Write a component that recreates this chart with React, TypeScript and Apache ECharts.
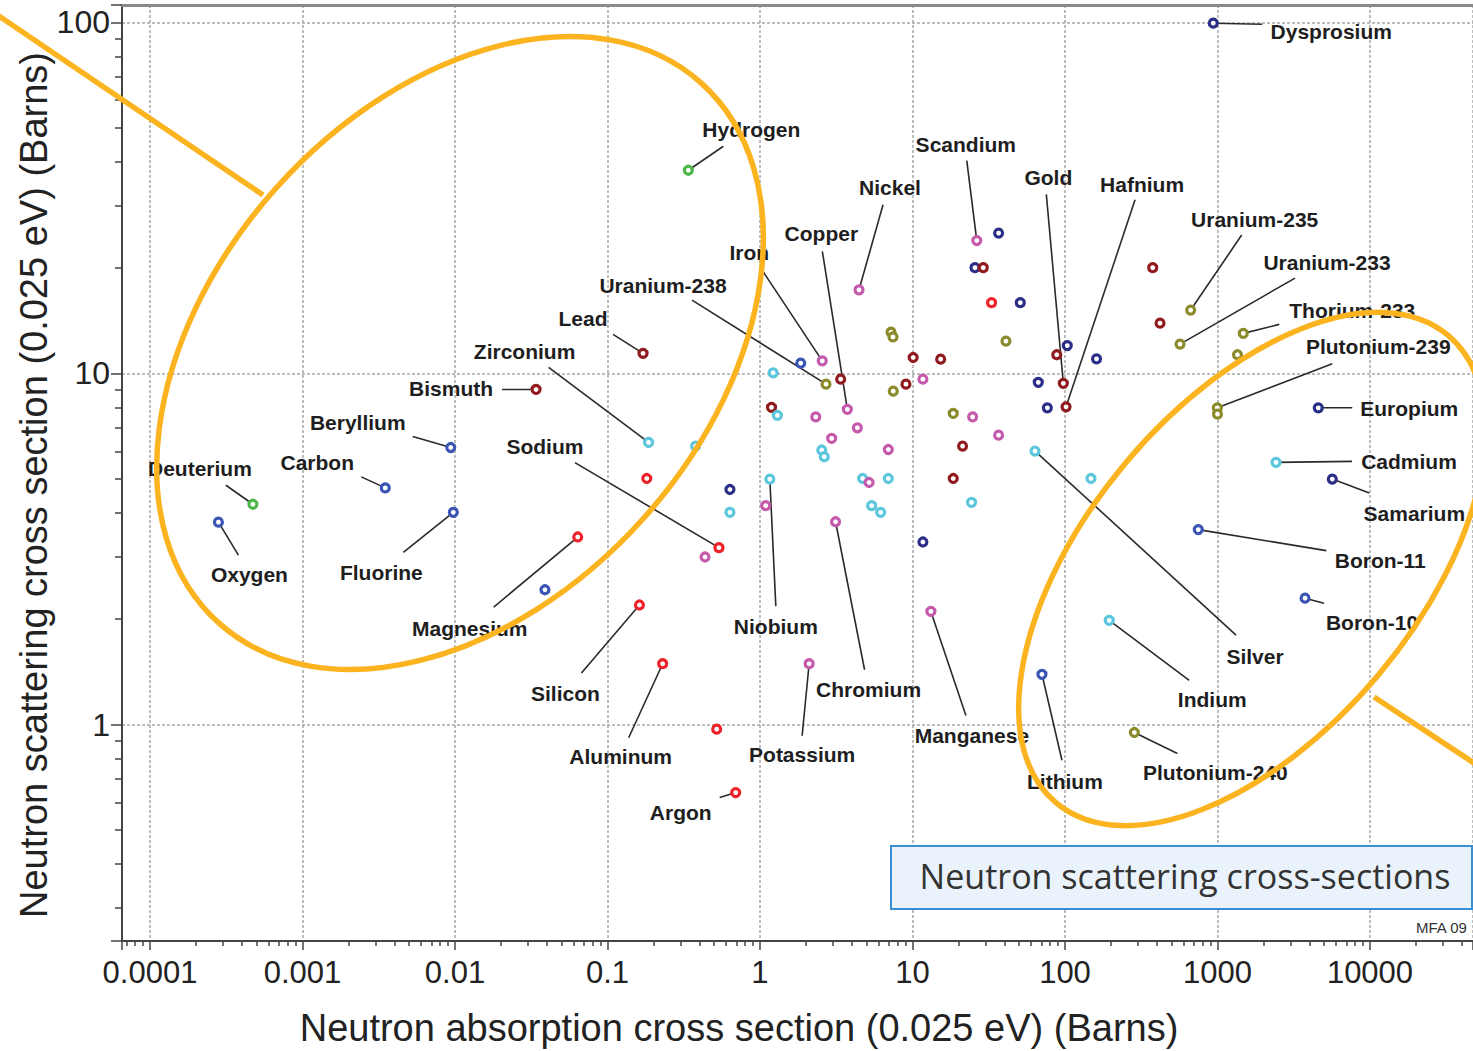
import React, { useEffect, useRef } from 'react';
import * as echarts from 'echarts';

// [absorption (barns), scattering (barns), label]
type Pt = [number, number, string];

const navyPoints: Pt[] = [
  [938, 99.4, 'Dysprosium'],
  [4580, 7.98, 'Europium'],
  [5660, 5.0, 'Samarium'],
  [0.635, 4.67, ''],
  [11.7, 3.31, ''],
  [36.7, 25.1, ''],
  [25.7, 20.0, ''],
  [50.9, 15.9, ''],
  [66.8, 9.43, ''],
  [76.6, 7.98, ''],
  [103.5, 12.0, ''],
  [161, 11.0, ''],
];

const bluePoints: Pt[] = [
  [0.000281, 3.77, 'Oxygen'],
  [0.00349, 4.72, 'Carbon'],
  [0.00938, 6.15, 'Beryllium'],
  [0.00975, 4.02, 'Fluorine'],
  [0.0389, 2.42, ''],
  [1.85, 10.7, ''],
  [70.6, 1.39, 'Lithium'],
  [748, 3.59, 'Boron-11'],
  [3750, 2.29, 'Boron-10'],
];

const greenPoints: Pt[] = [
  [0.339, 37.9, 'Hydrogen'],
  [0.000473, 4.24, 'Deuterium'],
];

const redPoints: Pt[] = [
  [0.538, 3.19, 'Sodium'],
  [0.0638, 3.42, 'Magnesium'],
  [0.162, 2.19, 'Silicon'],
  [0.23, 1.49, 'Aluminum'],
  [0.693, 0.64, 'Argon'],
  [0.52, 0.97, ''],
  [0.181, 5.02, ''],
  [33.0, 15.9, ''],
];

const darkRedPoints: Pt[] = [
  [0.034, 9.0, 'Bismuth'],
  [0.171, 11.4, 'Lead'],
  [97.5, 9.37, 'Gold'],
  [101.6, 8.03, 'Hafnium'],
  [3.38, 9.63, ''],
  [1.19, 8.0, ''],
  [10.1, 11.1, ''],
  [15.3, 10.98, ''],
  [9.06, 9.32, ''],
  [21.3, 6.21, ''],
  [18.5, 5.02, ''],
  [29.1, 20.0, ''],
  [88.3, 11.3, ''],
  [376, 20.0, ''],
  [420, 13.9, ''],
];

const cyanPoints: Pt[] = [
  [0.186, 6.36, 'Zirconium'],
  [1.16, 5.0, 'Niobium'],
  [63.6, 6.01, 'Silver'],
  [195, 1.98, 'Indium'],
  [2420, 5.58, 'Cadmium'],
  [0.378, 6.21, ''],
  [0.635, 4.02, ''],
  [1.22, 10.04, ''],
  [1.3, 7.59, ''],
  [2.54, 6.05, ''],
  [2.64, 5.79, ''],
  [4.71, 5.02, ''],
  [6.94, 5.02, ''],
  [5.4, 4.2, ''],
  [6.18, 4.02, ''],
  [24.4, 4.29, ''],
  [148, 5.02, ''],
];

const magentaPoints: Pt[] = [
  [2.56, 10.86, 'Iron'],
  [3.74, 7.9, 'Copper'],
  [4.46, 17.3, 'Nickel'],
  [26.4, 23.9, 'Scandium'],
  [3.13, 3.78, 'Chromium'],
  [13.2, 2.1, 'Manganese'],
  [2.1, 1.49, 'Potassium'],
  [0.436, 3.0, ''],
  [1.09, 4.2, ''],
  [2.32, 7.52, ''],
  [2.95, 6.53, ''],
  [4.35, 7.0, ''],
  [11.7, 9.63, ''],
  [6.94, 6.07, ''],
  [5.19, 4.89, ''],
  [24.8, 7.52, ''],
  [36.7, 6.67, ''],
];

const olivePoints: Pt[] = [
  [2.71, 9.32, 'Uranium-238'],
  [667, 15.15, 'Uranium-235'],
  [568, 12.12, 'Uranium-233'],
  [1476, 13.0, 'Thorium-233'],
  [997, 7.98, 'Plutonium-239'],
  [1000, 7.66, ''],
  [285, 0.949, 'Plutonium-240'],
  [1352, 11.3, ''],
  [7.23, 13.1, ''],
  [7.45, 12.7, ''],
  [7.48, 8.9, ''],
  [18.5, 7.69, ''],
  [41.0, 12.36, ''],
];

const groups: { name: string; color: string; points: Pt[] }[] = [
  { name: 'navy', color: '#2b2e86', points: navyPoints },
  { name: 'blue', color: '#3a55b4', points: bluePoints },
  { name: 'green', color: '#4fb74a', points: greenPoints },
  { name: 'red', color: '#ee2229', points: redPoints },
  { name: 'darkRed', color: '#8f1b1f', points: darkRedPoints },
  { name: 'cyan', color: '#5cc6dc', points: cyanPoints },
  { name: 'magenta', color: '#c55aad', points: magentaPoints },
  { name: 'olive', color: '#8b8b2c', points: olivePoints },
];

const xTickLabels = ['0.0001', '0.001', '0.01', '0.1', '1', '10', '100', '1000', '10000'];
const xTickFirstExp = -4;
const yTickLabels = ['1', '10', '100'];
const yTickFirstExp = 0;

// Leader line end and label centre, in pixels relative to the marker: [lx, ly, tx, ty]
const labelLayout: Record<string, [number, number, number, number]> = {
  Dysprosium: [49, 1, 118, 8],
  Hydrogen: [35, -24, 63, -41],
  Deuterium: [-27, -19, -53, -36],
  Oxygen: [20, 33, 31, 52],
  Carbon: [-24, -11, -68, -25],
  Beryllium: [-38, -11, -93, -25],
  Fluorine: [-50, 40, -72, 60],
  Bismuth: [-34, 0, -85, -1],
  Lead: [-30, -19, -60, -35],
  Zirconium: [-100, -75, -124, -91],
  Sodium: [-144, -85, -174, -101],
  Magnesium: [-84, 70, -108, 91],
  Silicon: [-58, 68, -74, 89],
  Aluminum: [-34, 74, -42, 93],
  Argon: [-16, 5, -55, 20],
  Potassium: [-7, 72, -7, 91],
  Niobium: [6, 127, 6, 147],
  Chromium: [29, 148, 33, 168],
  Manganese: [35, 104, 41, 124],
  Lithium: [20, 86, 23, 107],
  'Plutonium-240': [43, 21, 81, 40],
  Indium: [80, 60, 103, 79],
  Silver: [201, 184, 220, 205],
  'Boron-10': [19, 5, 67, 24],
  'Boron-11': [128, 21, 182, 31],
  Samarium: [37, 14, 82, 34],
  Cadmium: [76, -1, 133, -1],
  Europium: [34, 0, 91, 1],
  'Plutonium-239': [115, -44, 161, -61],
  'Thorium-233': [36, -9, 109, -23],
  'Uranium-233': [115, -66, 147, -82],
  'Uranium-235': [51, -75, 64, -91],
  'Uranium-238': [-134, -84, -163, -99],
  Iron: [-59, -89, -73, -108],
  Copper: [-25, -158, -26, -176],
  Nickel: [24, -85, 31, -102],
  Scandium: [-10, -80, -11, -96],
  Gold: [-17, -189, -15, -206],
  Hafnium: [69, -207, 76, -222],
};

const SANS = '"Liberation Sans", Arial, Helvetica, sans-serif';
const ORANGE = '#fbb31f';
const AXIS_COLOR = '#444';

function decadeLabel(v: number, labels: string[], firstExp: number): string {
  const lg = Math.log10(v);
  const e = Math.round(lg);
  if (Math.abs(lg - e) > 1e-6) return '';
  return labels[e - firstExp] ?? '';
}

export default function App() {
  const ref = useRef<HTMLDivElement>(null);

  useEffect(() => {
    if (!ref.current) return;
    const chart = echarts.init(ref.current, null, { renderer: 'svg' });

    const labeled = groups.flatMap((g) => g.points.filter((p) => p[2] !== ''));

    const scatterSeries = groups.map((g) => ({
      type: 'scatter',
      name: g.name,
      data: g.points.map((p) => [p[0], p[1]]),
      symbol: 'circle',
      symbolSize: 8,
      itemStyle: { color: '#ffffff', borderColor: g.color, borderWidth: 3.2, opacity: 1 },
      z: 4,
      silent: true,
      emphasis: { disabled: true },
    }));

    const labelSeries = {
      type: 'custom',
      name: 'labels',
      data: labeled.map((p) => [p[0], p[1]]),
      encode: { x: 0, y: 1 },
      z: 3,
      silent: true,
      clip: false,
      renderItem: (params: any, api: any) => {
        const p = labeled[params.dataIndex];
        const [px, py] = api.coord([api.value(0), api.value(1)]);
        const [lx, ly, tx, ty] = labelLayout[p[2]] || [0, 0, 0, 0];
        return {
          type: 'group',
          children: [
            {
              type: 'line',
              shape: { x1: px, y1: py, x2: px + lx, y2: py + ly },
              style: { stroke: '#2a2a2a', lineWidth: 1.6 },
            },
            {
              type: 'text',
              x: px + tx,
              y: py + ty,
              style: {
                text: p[2],
                fill: '#1e1e1e',
                fontSize: 21,
                fontWeight: 'bold',
                fontFamily: SANS,
                align: 'center',
                verticalAlign: 'middle',
              },
            },
          ],
        };
      },
    };

    const option: any = {
      animation: false,
      backgroundColor: '#ffffff',
      grid: {
        left: 122,
        right: 0,
        top: 5,
        bottom: 110,
        containLabel: false,
        outerBoundsMode: 'none',
      },
      xAxis: [
        {
          type: 'log',
          logBase: 10,
          min: 6.553e-5,
          max: 47360,
          axisLine: { show: true, onZero: false, lineStyle: { color: AXIS_COLOR, width: 2 } },
          axisTick: { show: true, inside: false, length: 9, lineStyle: { color: AXIS_COLOR, width: 1.5 } },
          minorTick: { show: true, splitNumber: 9, length: 5, lineStyle: { color: AXIS_COLOR, width: 1.5 } },
          axisLabel: {
            interval: 0,
            margin: 16,
            fontSize: 31,
            color: '#222',
            fontFamily: SANS,
            showMinLabel: false,
            showMaxLabel: false,
            formatter: (v: number) => decadeLabel(v, xTickLabels, xTickFirstExp),
          },
          splitLine: { show: true, lineStyle: { color: '#a8a8a8', width: 1.5, type: [3, 2] } },
          minorSplitLine: { show: false },
        },
        {
          type: 'value',
          position: 'top',
          min: 0,
          max: 1,
          axisLine: { show: true, onZero: false, lineStyle: { color: '#8a8a8a', width: 3 } },
          axisTick: { show: false },
          axisLabel: { show: false },
          splitLine: { show: false },
        },
      ],
      yAxis: [
        {
          type: 'log',
          logBase: 10,
          min: 0.2418,
          max: 112.0,
          axisLine: { show: true, onZero: false, lineStyle: { color: AXIS_COLOR, width: 2 } },
          axisTick: { show: true, inside: false, length: 11, lineStyle: { color: AXIS_COLOR, width: 1.5 } },
          minorTick: { show: true, splitNumber: 9, length: 7, lineStyle: { color: AXIS_COLOR, width: 1.5 } },
          axisLabel: {
            interval: 0,
            margin: 12,
            fontSize: 32,
            color: '#222',
            fontFamily: SANS,
            showMinLabel: false,
            showMaxLabel: false,
            formatter: (v: number) => decadeLabel(v, yTickLabels, yTickFirstExp),
          },
          splitLine: { show: true, lineStyle: { color: '#a8a8a8', width: 1.5, type: [3, 2] } },
          minorSplitLine: { show: false },
        },
      ],
      series: [labelSeries, ...scatterSeries],
      graphic: [
        {
          type: 'text',
          x: 34,
          y: 485,
          rotation: Math.PI / 2,
          z: 10,
          style: {
            text: 'Neutron scattering cross section (0.025 eV) (Barns)',
            fill: '#222',
            fontSize: 38,
            fontFamily: SANS,
            align: 'center',
            verticalAlign: 'middle',
          },
        },
        {
          type: 'text',
          x: 739,
          y: 1028,
          z: 10,
          style: {
            text: 'Neutron absorption cross section (0.025 eV) (Barns)',
            fill: '#222',
            fontSize: 38,
            fontFamily: SANS,
            align: 'center',
            verticalAlign: 'middle',
          },
        },
        {
          type: 'rect',
          z: 20,
          shape: { x: 891, y: 846, width: 581, height: 63 },
          style: { fill: '#eaf3fb', stroke: '#3a8fd3', lineWidth: 2 },
        },
        {
          type: 'text',
          x: 1185,
          y: 876,
          z: 21,
          style: {
            text: 'Neutron scattering cross-sections',
            fill: '#333',
            fontSize: 34,
            fontFamily: '"Open Sans", "Noto Sans", sans-serif',
            align: 'center',
            verticalAlign: 'middle',
          },
        },
        {
          type: 'text',
          x: 1416,
          y: 927,
          z: 21,
          style: {
            text: 'MFA 09',
            fill: '#333',
            fontSize: 15,
            fontFamily: '"Liberation Sans Narrow", "Arial Narrow", ' + SANS,
            align: 'left',
            verticalAlign: 'middle',
          },
        },
        {
          type: 'ellipse',
          x: 460,
          y: 353,
          rotation: (48.3 * Math.PI) / 180,
          z: 60,
          silent: true,
          shape: { cx: 0, cy: 0, rx: 362, ry: 247 },
          style: { fill: 'transparent', stroke: ORANGE, lineWidth: 5.5 },
        },
        {
          type: 'ellipse',
          x: 1252,
          y: 569,
          rotation: (50 * Math.PI) / 180,
          z: 60,
          silent: true,
          shape: { cx: 0, cy: 0, rx: 305, ry: 165 },
          style: { fill: 'transparent', stroke: ORANGE, lineWidth: 5.5 },
        },
        {
          type: 'line',
          z: 60,
          silent: true,
          shape: { x1: -4, y1: 14, x2: 263, y2: 195 },
          style: { stroke: ORANGE, lineWidth: 5.5 },
        },
        {
          type: 'line',
          z: 60,
          silent: true,
          shape: { x1: 1374, y1: 697, x2: 1480, y2: 767 },
          style: { stroke: ORANGE, lineWidth: 5.5 },
        },
      ],
    };

    chart.setOption(option);
    return () => chart.dispose();
  }, []);

  return (
    <div
      ref={ref}
      style={{ position: 'absolute', left: 0, top: 0, width: 1473, height: 1051, background: '#fff' }}
    />
  );
}
